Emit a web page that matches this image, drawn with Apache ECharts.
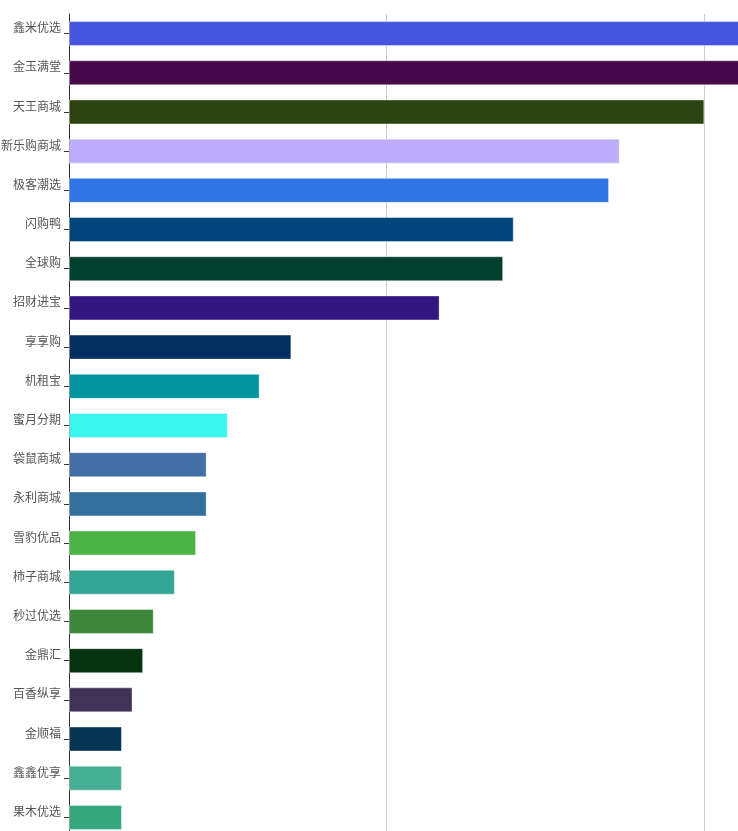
<!DOCTYPE html>
<html>
<head>
<meta charset="utf-8">
<script src="https://cdn.jsdelivr.net/npm/echarts@6/dist/echarts.min.js"></script>
<style>
  html, body { margin: 0; padding: 0; background: #fff; }
  #main { width: 738px; height: 831px; }
</style>
</head>
<body>
<div id="main"></div>
<script>
var categories = ['鑫米优选', '金玉满堂', '天王商城', '新乐购商城', '极客潮选', '闪购鸭', '全球购', '招财进宝',
  '享享购', '机租宝', '蜜月分期', '袋鼠商城', '永利商城', '雪豹优品', '柿子商城', '秒过优选',
  '金鼎汇', '百香纵享', '金顺福', '鑫鑫优享', '果木优选']
var values = [72, 68, 60, 52, 51, 42, 41, 35, 21, 18, 15, 13, 13, 12, 10, 8, 7, 6, 5, 5, 5]
var colors = ['#4656E0', '#48094A', '#2D4312', '#BDADFB', '#3174E5', '#03457A', '#023F2F', '#32157F',
  '#022F60', '#03939E', '#3BF5EE', '#426FA6', '#33709D', '#4BB444', '#33A794', '#3D863A',
  '#053310', '#3F3358', '#053551', '#46AF94', '#34A77F']

var chart = echarts.init(document.getElementById('main'))

var data = values.map(function (v, i) {
  return { value: v, itemStyle: { color: colors[i] } }
})

chart.setOption({
  animation: false,
  grid: { left: 69, top: 14, right: -284, bottom: -6, outerBoundsMode: 'none', containLabel: false },
  xAxis: {
    type: 'value',
    min: 0,
    max: 90,
    interval: 30,
    axisLine: { show: false },
    axisTick: { show: false },
    axisLabel: { show: false },
    splitLine: { lineStyle: { color: '#ccc', width: 1 } }
  },
  yAxis: {
    type: 'category',
    inverse: true,
    data: categories,
    axisLine: { lineStyle: { color: '#333' } },
    axisTick: { show: true, alignWithLabel: true, length: 5, lineStyle: { color: '#333' } },
    axisLabel: {
      color: '#555',
      fontSize: 12,
      margin: 8,
      verticalAlign: 'bottom',
      lineHeight: 12,
      fontFamily: 'Noto Sans CJK SC'
    }
  },
  series: [{
    type: 'bar',
    data: data,
    barWidth: 25,
    itemStyle: { borderColor: 'rgba(255,255,255,0.4)', borderWidth: 1 }
  }]
})
</script>
</body>
</html>
